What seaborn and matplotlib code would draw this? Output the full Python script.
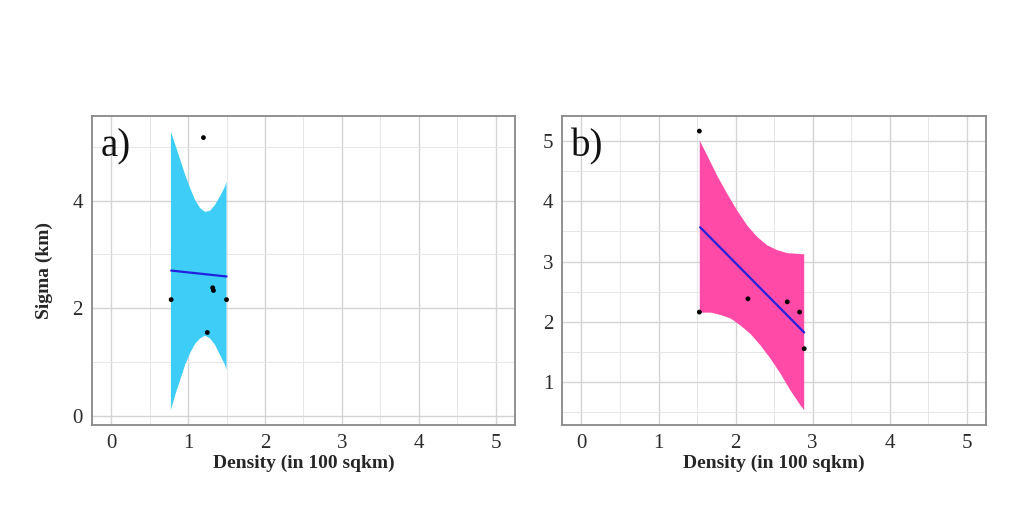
import numpy as np
import pandas as pd
import matplotlib
matplotlib.use("Agg")
import matplotlib.pyplot as plt
from matplotlib.ticker import MultipleLocator
import seaborn as sns

# ── values ─────────────────────────────────────────────────────────────────────
sigma_km = [5.17, 2.16, 2.38, 2.33, 2.16, 1.55]

dens_a = [1.20, 0.78, 1.32, 1.33, 1.50, 1.25]
dens_b = [1.53, 1.53, 2.16, 2.67, 2.83, 2.89]

fit_a_x = [0.78, 1.50]
fit_a_y = [2.70, 2.59]
fit_b_x = [1.54, 2.89]
fit_b_y = [3.57, 1.82]

# ribbon edges (upper and lower read separately)
band_a_hi_x = [0.777, 0.833, 0.898, 0.962, 1.027, 1.092, 1.157, 1.221,
               1.286, 1.351, 1.416, 1.480, 1.500]
band_a_hi_y = [5.28, 5.04, 4.76, 4.48, 4.23, 4.01, 3.86, 3.79,
               3.81, 3.92, 4.08, 4.26, 4.35]
band_a_lo_x = [0.777, 0.833, 0.898, 0.962, 1.027, 1.092, 1.157, 1.221,
               1.286, 1.351, 1.416, 1.480, 1.500]
band_a_lo_y = [0.11, 0.39, 0.67, 0.95, 1.17, 1.34, 1.44, 1.49,
               1.44, 1.32, 1.13, 0.95, 0.86]

band_b_hi_x = [1.535, 1.63, 1.76, 1.89, 2.02, 2.15, 2.28, 2.41, 2.54,
               2.67, 2.89]
band_b_hi_y = [5.01, 4.77, 4.43, 4.13, 3.85, 3.60, 3.41, 3.27, 3.19,
               3.14, 3.12]
band_b_lo_x = [1.535, 1.68, 1.81, 1.94, 2.06, 2.19, 2.32, 2.45, 2.58,
               2.71, 2.84, 2.89]
band_b_lo_y = [2.15, 2.15, 2.11, 2.05, 1.94, 1.80, 1.61, 1.39, 1.14,
               0.86, 0.61, 0.53]

x_ticks   = [0, 1, 2, 3, 4, 5]
y_ticks_a = [0, 2, 4]
y_ticks_b = [1, 2, 3, 4, 5]

SERIF = ["Liberation Serif", "DejaVu Serif"]


def style_panel(ax, yticks, ylim, minor_step):
    ax.set_xlim(-0.25, 5.25)
    ax.set_ylim(*ylim)
    ax.set_xticks(x_ticks)
    ax.set_yticks(yticks)
    ax.xaxis.set_minor_locator(MultipleLocator(0.5))
    ax.yaxis.set_minor_locator(MultipleLocator(minor_step))
    ax.grid(which="major", color="#d4d4d4", linewidth=1.0)
    ax.grid(which="minor", color="#e6e6e6", linewidth=0.7)
    ax.set_axisbelow(True)
    ax.tick_params(which="major", length=3, color="#888888", labelsize=15,
                   labelcolor="#2a2a2a")
    ax.tick_params(which="minor", length=0)
    for lab in ax.get_xticklabels() + ax.get_yticklabels():
        lab.set_family(SERIF)
    for sp in ax.spines.values():
        sp.set_color("#888888")
        sp.set_linewidth(1.3)
    ax.set_xlabel("Density (in 100 sqkm)", fontsize=14, fontweight="bold",
                  family=SERIF, labelpad=1)


def draw_panel(ax, dens, hx, hy, lx, ly, fx, fy, fill, tag):
    # ribbon as a closed outline: upper edge left→right, lower edge back
    ax.fill(list(hx) + list(lx)[::-1], list(hy) + list(ly)[::-1],
            color=fill, linewidth=0, zorder=2)
    sns.lineplot(x=fx, y=fy, ax=ax, color="#2222dd", linewidth=1.6, zorder=3)
    pts = pd.DataFrame({"density": dens, "sigma": sigma_km})
    sns.scatterplot(data=pts, x="density", y="sigma", ax=ax, color="black",
                    s=12, edgecolor="none", zorder=4)
    ax.text(0.02, 0.96, tag, transform=ax.transAxes, fontsize=28,
            family=SERIF, va="top", ha="left", color="#111111")


sns.set_style("white")
fig = plt.figure(figsize=(10.24, 5.30), dpi=100)
ax_a = fig.add_axes([0.0898, 0.198, 0.413, 0.583])
ax_b = fig.add_axes([0.549, 0.198, 0.414, 0.583])

draw_panel(ax_a, dens_a, band_a_hi_x, band_a_hi_y, band_a_lo_x, band_a_lo_y,
           fit_a_x, fit_a_y, "#3dcdf7", "a)")
style_panel(ax_a, y_ticks_a, (-0.17, 5.57), 1)
ax_a.set_ylabel("Sigma (km)", fontsize=14, fontweight="bold", family=SERIF,
                labelpad=14)

draw_panel(ax_b, dens_b, band_b_hi_x, band_b_hi_y, band_b_lo_x, band_b_lo_y,
           fit_b_x, fit_b_y, "#ff4aa8", "b)")
style_panel(ax_b, y_ticks_b, (0.28, 5.42), 0.5)
ax_b.set_ylabel("")

fig.savefig("out.png", dpi=100, facecolor="white")
